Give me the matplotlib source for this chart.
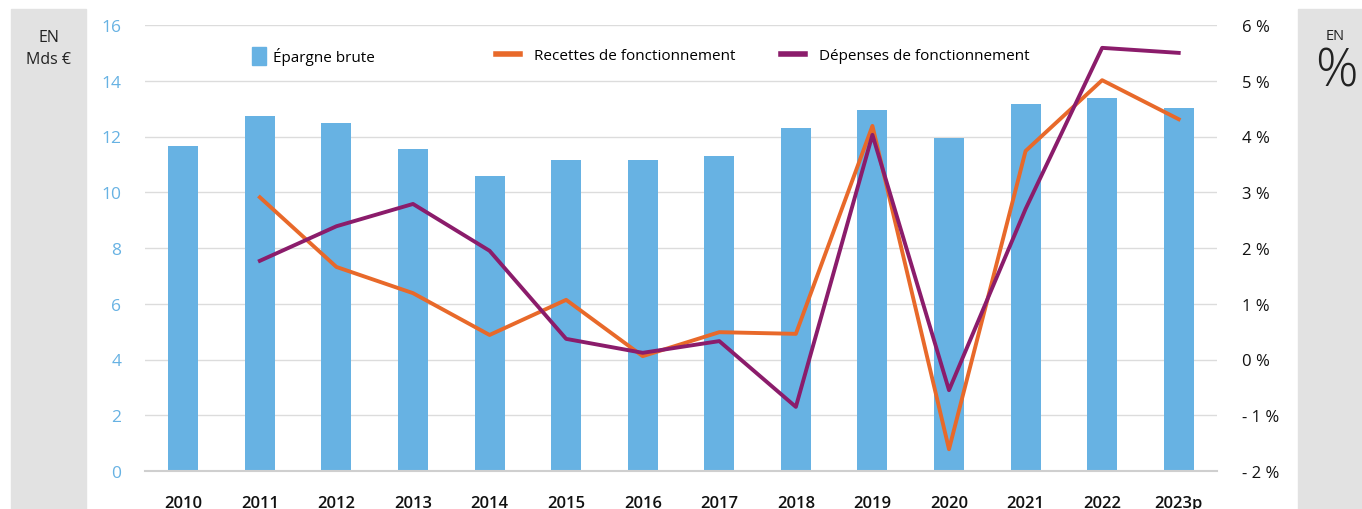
import matplotlib.pyplot as plt
from matplotlib.patches import Rectangle, Patch
from matplotlib.lines import Line2D
import numpy as np

years = ['2010', '2011', '2012', '2013', '2014', '2015', '2016',
         '2017', '2018', '2019', '2020', '2021', '2022', '2023p']
epargne = [11.65, 12.72, 12.47, 11.54, 10.57, 11.15, 11.15,
           11.29, 12.29, 12.94, 11.94, 13.15, 13.37, 13.01]
recettes = [None, 2.91, 1.66, 1.19, 0.44, 1.07, 0.06,
            0.49, 0.46, 4.19, -1.61, 3.74, 5.01, 4.31]
depenses = [None, 1.77, 2.39, 2.79, 1.95, 0.37, 0.12,
            0.33, -0.85, 4.03, -0.55, 2.70, 5.59, 5.50]

BLUE = '#67b2e3'
ORANGE = '#e8692a'
PURPLE = '#8b1c6b'
GRID = '#dcdcdc'
PANEL = '#e2e2e2'

plt.rcParams['font.family'] = ['Open Sans', 'DejaVu Sans']

fig = plt.figure(figsize=(13.62, 5.10), dpi=100)

# grey side panels
fig.patches.append(Rectangle((11 / 1362, 0), 75 / 1362, 500 / 510,
                             transform=fig.transFigure, color=PANEL, zorder=0))
fig.patches.append(Rectangle((1298 / 1362, 0), 64 / 1362, 500 / 510,
                             transform=fig.transFigure, color=PANEL, zorder=0))
fig.text(48.5 / 1362, 1 - 38 / 510, 'EN', ha='center', va='center', fontsize=11.5, color='#222222')
fig.text(48.5 / 1362, 1 - 60 / 510, 'Mds €', ha='center', va='center', fontsize=11.5, color='#222222')
fig.text(1335 / 1362, 1 - 37 / 510, 'EN', ha='center', va='center', fontsize=10.5, color='#222222')
fig.text(1336 / 1362, 1 - 73 / 510, '%', ha='center', va='center', fontsize=38,
         fontweight='light', color='#222222')

ax = fig.add_axes([145 / 1362, 1 - 472 / 510, 1072 / 1362, 446 / 510])
x = np.arange(len(years))
ax.bar(x, epargne, width=0.39, color=BLUE, zorder=2)
ax.set_xlim(-0.5, len(years) - 0.5)
ax.set_ylim(0, 16)
ax.set_yticks(range(0, 17, 2))
ax.set_xticks(x)
ax.set_xticklabels(years, fontsize=12, color='#111111', fontweight='semibold')
ax.tick_params(axis='x', length=0, pad=17)
ax.tick_params(axis='y', length=0, pad=17, labelsize=12.5, labelcolor=BLUE)
for lbl in ax.get_yticklabels():
    lbl.set_fontweight('medium')
ax.grid(axis='y', color=GRID, linewidth=1, zorder=0)
for s in ['top', 'left', 'right']:
    ax.spines[s].set_visible(False)
ax.spines['bottom'].set_color('#cfcfcf')
ax.spines['bottom'].set_linewidth(1.5)

ax2 = ax.twinx()
rec = np.array([np.nan if v is None else v for v in recettes])
dep = np.array([np.nan if v is None else v for v in depenses])
ax2.plot(x, rec, color=ORANGE, linewidth=2.8, zorder=3)
ax2.plot(x, dep, color=PURPLE, linewidth=2.8, zorder=4)
ax2.set_ylim(-2, 6)
ax2.set_yticks(range(-2, 7))
ax2.set_yticklabels([f'{v} %' if v >= 0 else f'- {abs(v)} %' for v in range(-2, 7)])
ax2.tick_params(axis='y', length=0, pad=18, labelsize=12, labelcolor='#111111')
for s in ax2.spines.values():
    s.set_visible(False)

# legends
fig.legend(handles=[Patch(color=BLUE)], labels=['Épargne brute'],
           loc='center left', bbox_to_anchor=(238 / 1362, 1 - 57 / 510),
           frameon=False, fontsize=11, handlelength=0.9, handleheight=1.4,
           handletextpad=0.5)
fig.legend(handles=[Line2D([], [], color=ORANGE, linewidth=4)],
           labels=['Recettes de fonctionnement'],
           loc='center left', bbox_to_anchor=(482 / 1362, 1 - 57 / 510),
           frameon=False, fontsize=11, handlelength=1.6, handletextpad=0.9)
fig.legend(handles=[Line2D([], [], color=PURPLE, linewidth=4)],
           labels=['Dépenses de fonctionnement'],
           loc='center left', bbox_to_anchor=(767 / 1362, 1 - 57 / 510),
           frameon=False, fontsize=11, handlelength=1.6, handletextpad=0.9)

fig.savefig('out.png', dpi=100)
